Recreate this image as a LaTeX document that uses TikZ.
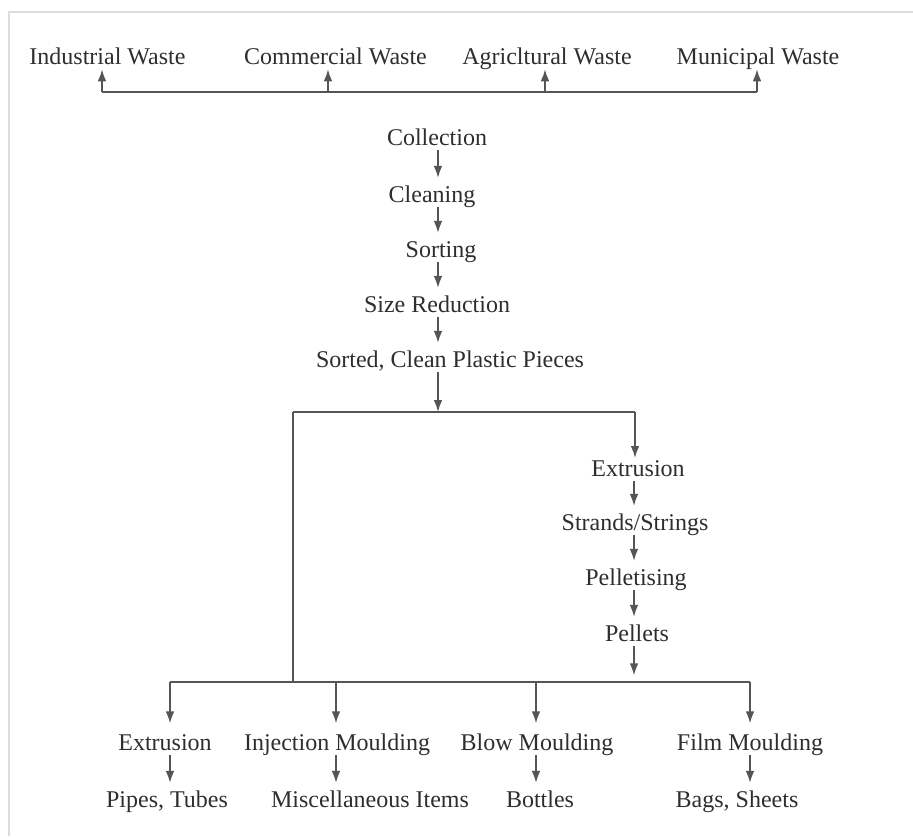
\documentclass[tikz,border=0pt]{standalone}
\usepackage{fontspec}
\setmainfont{Liberation Serif}
\newfontfamily\lserif{Liberation Serif}
\usetikzlibrary{arrows.meta}
\definecolor{txt}{HTML}{2E2E2E}
\definecolor{ln}{HTML}{555555}
\definecolor{framec}{HTML}{DCDCDC}
\begin{document}
\begin{tikzpicture}[x=0.75pt,y=-0.75pt,
  lbl/.style={font=\lserif\fontsize{18}{20}\selectfont, text=txt, inner sep=0pt,
              text height=12.3pt, text depth=3.75pt, anchor=base},
  wire/.style={draw=ln, line width=1.2pt},
  arr/.style={wire, -{Latex[length=9pt,width=6.5pt]}},
  garr/.style={arr, shorten >=5.6pt}]
\useasboundingbox (0,0) rectangle (913,836);
% frame
\draw[framec, line width=1.5pt] (913,12) -- (9,12) -- (9,836);

% top sources
\node[lbl] (ind) at (107.5,64) {Industrial Waste};
\node[lbl] (com) at (335.5,64) {Commercial Waste};
\node[lbl] (agr) at (547,64) {Agricltural Waste};
\node[lbl] (mun) at (758,64) {Municipal Waste};
\coordinate (t1) at (102,92);
\coordinate (t2) at (328,92);
\coordinate (t3) at (545,92);
\coordinate (t4) at (757,92);
\draw[wire] (t1) -- (t4);
\draw[arr] (t1) -- (ind.south -| t1);
\draw[arr] (t2) -- (com.south -| t2);
\draw[arr] (t3) -- (agr.south -| t3);
\draw[arr] (t4) -- (mun.south -| t4);

% centre column
\node[lbl] (col) at (437,145) {Collection};
\node[lbl] (cle) at (432,202) {Cleaning};
\node[lbl] (sor) at (441,257) {Sorting};
\node[lbl] (siz) at (437,312) {Size Reduction};
\node[lbl] (scp) at (450,367) {Sorted, Clean Plastic Pieces};
\coordinate (bl) at (293,412);
\coordinate (b1) at (438,412);
\coordinate (br) at (635,412);
\draw[garr] (col.south -| b1) -- (cle.north -| b1);
\draw[garr] (cle.south -| b1) -- (sor.north -| b1);
\draw[garr] (sor.south -| b1) -- (siz.north -| b1);
\draw[garr] (siz.south -| b1) -- (scp.north -| b1);
\draw[arr] (scp.south -| b1) -- (b1);
\draw[wire] (bl) -- (br);

% right column
\node[lbl] (ext) at (638,476) {Extrusion};
\node[lbl] (str) at (635,530) {Strands/Strings};
\node[lbl] (pel) at (636,585) {Pelletising};
\node[lbl] (plt) at (637,641) {Pellets};
\draw[arr, shorten >=1pt] (br) -- (ext.north -| br);
\coordinate (pd) at (634,682);
\draw[garr] (ext.south -| pd) -- (str.north -| pd);
\draw[garr] (str.south -| pd) -- (pel.north -| pd);
\draw[garr] (pel.south -| pd) -- (plt.north -| pd);
\draw[arr, shorten >=5pt] (plt.south -| pd) -- (pd);

% lower bus
\coordinate (lb0) at (293,682);
\coordinate (d1) at (170,682);
\coordinate (d2) at (336,682);
\coordinate (d3) at (536,682);
\coordinate (d4) at (750,682);
\draw[wire] (bl) -- (lb0);
\draw[wire] (d1) -- (d4);

% processes
\node[lbl] (ex2) at (165,750) {Extrusion};
\node[lbl] (inj) at (337,750) {Injection Moulding};
\node[lbl] (blo) at (537,750) {Blow Moulding};
\node[lbl] (fil) at (750,750) {Film Moulding};
\draw[arr, shorten >=7.5pt] (d1) -- (ex2.north -| d1);
\draw[arr, shorten >=7.5pt] (d2) -- (inj.north -| d2);
\draw[arr, shorten >=7.5pt] (d3) -- (blo.north -| d3);
\draw[arr, shorten >=7.5pt] (d4) -- (fil.north -| d4);

% products
\node[lbl] (pip) at (167,807) {Pipes, Tubes};
\node[lbl] (mis) at (370,807) {Miscellaneous Items};
\node[lbl] (bot) at (540,807) {Bottles};
\node[lbl] (bag) at (737,807) {Bags, Sheets};
\draw[garr] (ex2.south -| d1) -- (pip.north -| d1);
\draw[garr] (inj.south -| d2) -- (mis.north -| d2);
\draw[garr] (blo.south -| d3) -- (bot.north -| d3);
\draw[garr] (fil.south -| d4) -- (bag.north -| d4);
\end{tikzpicture}
\end{document}
